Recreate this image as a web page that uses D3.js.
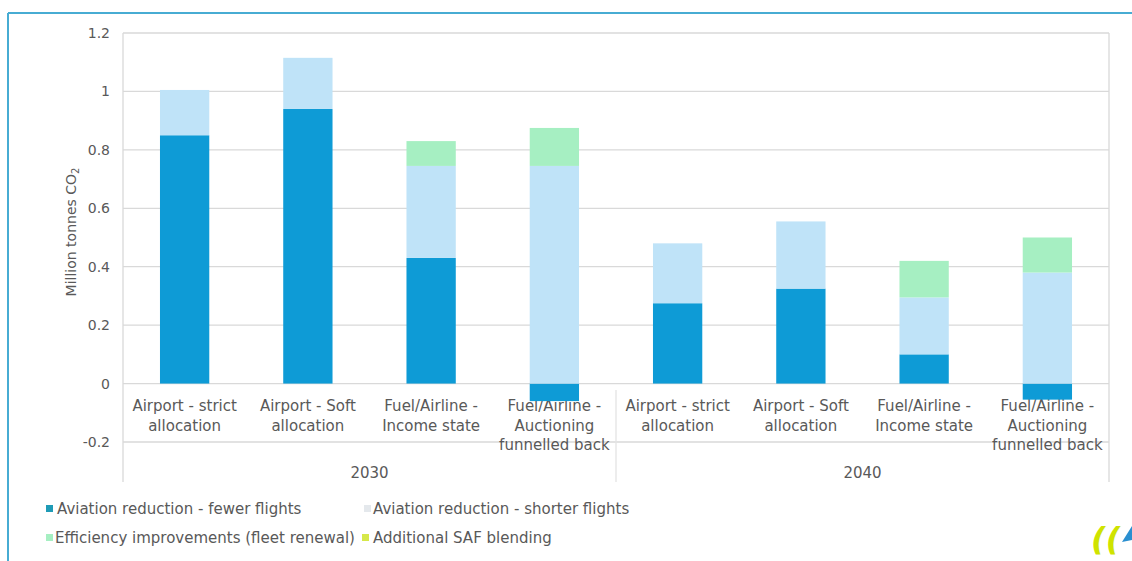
<!DOCTYPE html>
<html><head><meta charset="utf-8">
<script src="https://cdn.jsdelivr.net/npm/d3@7"></script>
<style>
html,body{margin:0;padding:0;background:#fff;}
svg text{font-family:"DejaVu Sans",sans-serif;fill:#595959;}
</style></head>
<body><svg id="c" width="1132" height="561"></svg>
<script>
const categories = ["Airport - strict allocation","Airport - Soft allocation","Fuel/Airline - Income state","Fuel/Airline - Auctioning funnelled back",
                    "Airport - strict allocation","Airport - Soft allocation","Fuel/Airline - Income state","Fuel/Airline - Auctioning funnelled back"];
const catLines = [["Airport - strict","allocation"],["Airport - Soft","allocation"],["Fuel/Airline -","Income state"],["Fuel/Airline -","Auctioning","funnelled back"],
                  ["Airport - strict","allocation"],["Airport - Soft","allocation"],["Fuel/Airline -","Income state"],["Fuel/Airline -","Auctioning","funnelled back"]];
const years = ["2030","2040"];
const seriesNames = ["Aviation reduction - fewer flights","Aviation reduction - shorter flights","Efficiency improvements (fleet renewal)","Additional SAF blending"];
const fewerFlights  = [0.85, 0.94, 0.43, -0.06, 0.275, 0.325, 0.10, -0.055];
const shorterFlights= [0.155,0.175,0.315,0.745, 0.205, 0.23, 0.195, 0.38];
const efficiency    = [0, 0, 0.085, 0.13, 0, 0, 0.125, 0.12];
const safBlending   = [0, 0, 0, 0, 0, 0, 0, 0];
const yTicks = [-0.2, 0, 0.2, 0.4, 0.6, 0.8, 1, 1.2];
const yTickLabels = ["-0.2","0","0.2","0.4","0.6","0.8","1","1.2"];
const colors = ["#0e9bd6","#bfe3f8","#a6efc2","#d6e84a"];
const legendColors = ["#1f9bb6","#e4e8ec","#a6efc2","#d6e84a"];

const svg = d3.select("#c");
// outer frame
svg.append("line").attr("x1",8).attr("x2",1132).attr("y1",13).attr("y2",13).attr("stroke","#47acd3").attr("stroke-width",2);
svg.append("line").attr("x1",8).attr("x2",8).attr("y1",13).attr("y2",561).attr("stroke","#47acd3").attr("stroke-width",2);

const L=123, R=1109, T=33, B=442;
const x = d3.scaleBand().domain(d3.range(8)).range([L,R]).paddingInner(0.6).paddingOuter(0.3);
const y = d3.scaleLinear().domain([-0.2,1.2]).range([B,T]);

// gridlines
svg.append("g").selectAll("line").data(yTicks).join("line")
  .attr("x1",L).attr("x2",R).attr("y1",d=>y(d)).attr("y2",d=>y(d))
  .attr("stroke","#d9d9d9").attr("stroke-width",1.3);

// y axis
const yAxis = d3.axisLeft(y).tickValues(yTicks).tickSize(0).tickPadding(13).tickFormat((d,i)=>yTickLabels[i]);
const gy = svg.append("g").attr("transform",`translate(${L},0)`).call(yAxis);
gy.select(".domain").remove();
gy.selectAll("text").style("font-size","14px").style("font-family","DejaVu Sans, sans-serif").attr("fill","#595959");

// separators
svg.append("line").attr("x1",L).attr("x2",L).attr("y1",T).attr("y2",482).attr("stroke","#d9d9d9").attr("stroke-width",1.3);
svg.append("line").attr("x1",R).attr("x2",R).attr("y1",T).attr("y2",482).attr("stroke","#d9d9d9").attr("stroke-width",1.3);
const mid = (x(3)+x.bandwidth()+x(4))/2;
svg.append("line").attr("x1",mid).attr("x2",mid).attr("y1",390).attr("y2",482).attr("stroke","#e4e4e4").attr("stroke-width",1.3);

// category labels (drawn before bars, as negative bars overlap them)
const gc = svg.append("g");
catLines.forEach((lines,i)=>{
  const cx = x(i)+x.bandwidth()/2;
  lines.forEach((t,j)=>{
    gc.append("text").attr("x",cx).attr("y",411+j*19.5).attr("text-anchor","middle").style("font-size","15px").text(t);
  });
});

// stacked bars (positives up, negatives down)
const series = [fewerFlights, shorterFlights, efficiency, safBlending];
const gb = svg.append("g");
d3.range(8).forEach(i=>{
  let pos=0, neg=0;
  series.forEach((s,k)=>{
    const v=s[i]; if(!v) return;
    let y0,y1;
    if(v>=0){y0=pos; y1=pos+v; pos=y1;} else {y0=neg; y1=neg+v; neg=y1;}
    gb.append("rect").attr("x",x(i)).attr("width",x.bandwidth())
      .attr("y",y(Math.max(y0,y1))).attr("height",Math.abs(y(y0)-y(y1))).attr("fill",colors[k]);
  });
});

// year labels
years.forEach((yr,k)=>{
  const cx = k===0 ? (L+mid)/2 : (mid+R)/2;
  svg.append("text").attr("x",cx).attr("y",478).attr("text-anchor","middle").style("font-size","15px").text(yr);
});

// y label
svg.append("text").attr("transform","translate(76,232) rotate(-90)").attr("text-anchor","middle").style("font-size","14px")
  .html('Million tonnes CO<tspan dy="3" font-size="10px">2</tspan>');

// legend
const leg = [[46,514,0],[364,514,1],[46,543,2],[362,543,3]];
const textX = [57,373,55,373];
leg.forEach(([lx,ly,k],i)=>{
  svg.append("rect").attr("x",lx).attr("y",ly-9).attr("width",7).attr("height",7).attr("fill",legendColors[k]);
  svg.append("text").attr("x",textX[i]).attr("y",ly).style("font-size","15px").text(seriesNames[k]);
});

// logo
svg.append("text").attr("x",1091).attr("y",550).style("font-size","32px").style("font-weight","bold").style("font-style","italic")
  .style("fill","#cfe300").text("((");
svg.append("path").attr("d","M1122,542 L1132,526 L1132,540 Z").attr("fill","#2a8fd0");
</script></body></html>
